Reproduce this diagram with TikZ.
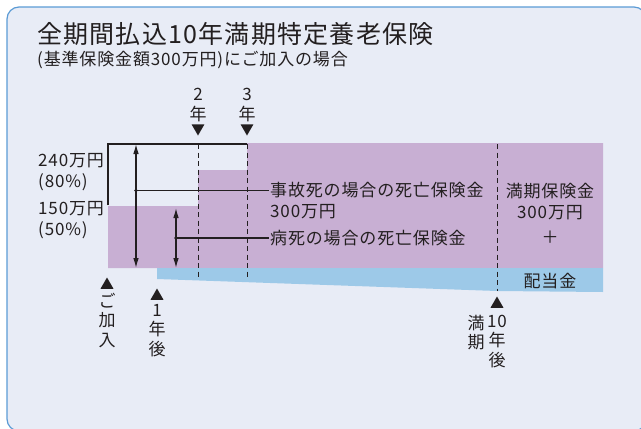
\documentclass[tikz,border=0pt]{standalone}
\usepackage{fontspec}
\setmainfont[LetterSpace=5]{Noto Sans CJK JP}
\usepackage{xcolor}
\definecolor{panelbg}{HTML}{E8ECF6}
\definecolor{panelline}{HTML}{5B9BD5}
\definecolor{lavender}{HTML}{C8AFD3}
\definecolor{skyband}{HTML}{9DC9E8}
\definecolor{inkgray}{HTML}{231F20}
\usetikzlibrary{shapes.geometric,arrows.meta,positioning}

\begin{document}
\begin{tikzpicture}[x=1pt,y=-1pt,
    lbl/.style={font=\fontsize{17}{21}\selectfont, text=inkgray, inner sep=1pt},
    vlbl/.style={lbl, align=center, font=\fontsize{17}{19.5}\selectfont},
    tridown/.style={regular polygon, regular polygon sides=3, shape border rotate=180, fill=inkgray, minimum size=15pt, inner sep=0pt},
    triup/.style={regular polygon, regular polygon sides=3, fill=inkgray, minimum size=15pt, inner sep=0pt},
    dim/.style={inkgray, line width=1.1pt, {Latex[length=10pt,width=5.5pt]}-{Latex[length=10pt,width=5.5pt]}},
    guide/.style={inkgray, line width=0.9pt, dash pattern=on 5pt off 3.5pt}]
        \useasboundingbox (0,0) rectangle (641,429);
        \clip (0,0) rectangle (641,429);
        % Panel
        \draw[panelline, fill=panelbg, line width=1.2pt, rounded corners=12pt] (7,7) rectangle (646,431);
        % Heading
        \node[anchor=west, inner sep=0pt, text=inkgray, font=\fontsize{25}{29}\selectfont] (title) at (37,34) {全期間払込10年満期特定養老保険};
        \node[anchor=west, inner sep=0pt, text=inkgray, font=\fontsize{17}{20}\selectfont] (subtitle) at (37,60) {(基準保険金額300万円)にご加入の場合};
        % Coverage areas
        \fill[lavender] (108,206) -- (198,206) -- (198,170) -- (247,170) -- (247,143) -- (603,143) -- (603,268) -- (108,268) -- cycle;
        \fill[skyband] (157,268) -- (603,268) -- (603,292) -- (497,291) -- (157,279) -- cycle;
        \draw[inkgray, line width=1.2pt] (108,205) -- (108,144) -- (247,144);
        % Year guides
        \foreach \x/\yb in {198/278,247/278,497/291} {
          \draw[guide] (\x,144) -- (\x,\yb);
        }
        % Death benefits
        \coordinate (accTop) at (136,144);
        \coordinate (accBot) at (136,268);
        \coordinate (accDot) at (136,190.5);
        \coordinate (illTop) at (176,208);
        \coordinate (illBot) at (176,268);
        \coordinate (illDot) at (176,238);
        \draw[dim] (accTop) -- (accBot);
        \draw[dim] (illTop) -- (illBot);
        \fill[inkgray] (accDot) circle (1.8pt) (illDot) circle (1.8pt);
        \node[lbl, anchor=west] (accText) at (269,190.5) {事故死の場合の死亡保険金};
        \node[lbl, anchor=west] (accAmount) at (269,212) {300万円};
        \node[lbl, anchor=west] (illText) at (269,238) {病死の場合の死亡保険金};
        \draw[inkgray, line width=1.1pt] (accDot) -- (accText.west);
        \draw[inkgray, line width=1.1pt] (illDot) -- (illText.west);
        % Maturity
        \node[lbl, align=center] (maturity) at (550,202) {満期保険金\\300万円};
        \node[lbl] (plus) at (550,237) {＋};
        \node[lbl] (dividend) at (550,281) {配当金};
        % Amounts
        \node[lbl, align=left, anchor=west] (amtHigh) at (37,172.5) {240万円\\(80\%)};
        \node[lbl, align=left, anchor=west] (amtLow) at (37,220.5) {150万円\\(50\%)};
        % Markers
        \node[tridown] (yr2mark) at (198,128) {};
        \node[tridown] (yr3mark) at (247,128) {};
        \node[vlbl, above=1pt of yr2mark] (yr2) {2\\年};
        \node[vlbl, above=1pt of yr3mark] (yr3) {3\\年};
        \node[triup] (joinMark) at (107,285) {};
        \node[triup] (yr1Mark) at (157,296) {};
        \node[triup] (matMark) at (497,304) {};
        \node[vlbl, below=3pt of joinMark] (join) {ご\\加\\入};
        \node[vlbl, below=3pt of yr1Mark] (yr1) {1\\年\\後};
        \node[vlbl, below=6pt of matMark] (matYear) {10\\年\\後};
        \node[vlbl, anchor=north east] (matWord) at (matYear.north west) {満\\期};
      \end{tikzpicture}
\end{document}
